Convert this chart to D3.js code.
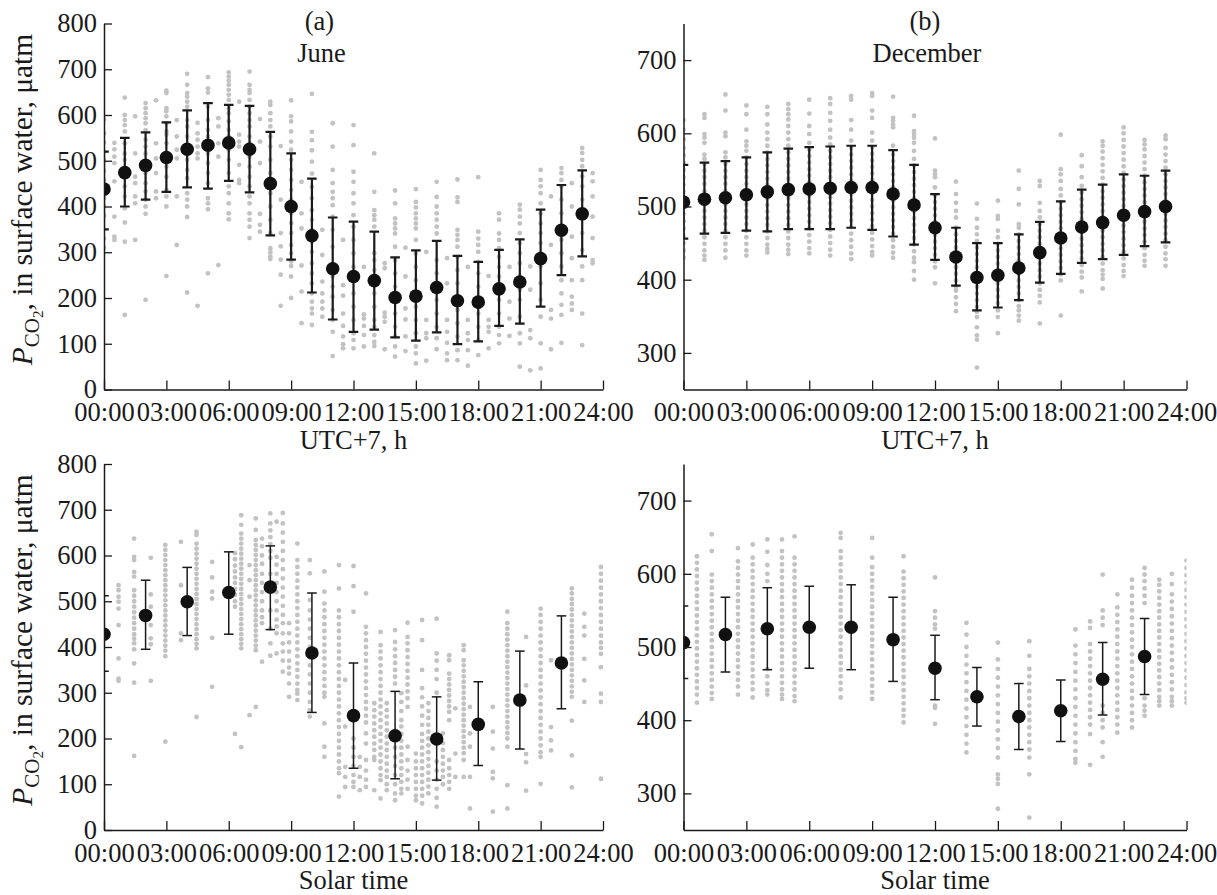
<!DOCTYPE html>
<html>
<head>
<meta charset="utf-8">
<script src="https://cdn.jsdelivr.net/npm/d3@7"></script>
<style>
  html, body { margin: 0; padding: 0; background: #fff; }
  svg { display: block; }
  svg text { font-family: 'Liberation Serif', 'Times New Roman', Times, serif; }
</style>
</head>
<body>
<svg id="chart" width="1217" height="895"></svg>
<script>
// ---------- data ----------
const xTickHours = [0, 3, 6, 9, 12, 15, 18, 21, 24];
const xTickLabels = ["00:00", "03:00", "06:00", "09:00", "12:00", "15:00", "18:00", "21:00", "24:00"];
const juneTicks = [0, 100, 200, 300, 400, 500, 600, 700, 800];
const decemberTicks = [300, 400, 500, 600, 700];

// hourly means (UTC+7) with error bar limits
const utcHours = [0, 1, 2, 3, 4, 5, 6, 7, 8, 9, 10, 11, 12, 13, 14, 15, 16, 17, 18, 19, 20, 21, 22, 23];
const juneUtcMean = [438, 474, 490, 507, 525, 534, 539, 525, 450, 400, 336, 264, 247, 238, 201, 204, 223, 194, 191, 220, 235, 286, 348, 384];
const juneUtcHigh = [520, 550, 562, 584, 610, 626, 622, 620, 563, 516, 461, 376, 367, 345, 289, 304, 325, 292, 279, 305, 328, 393, 447, 479];
const juneUtcLow  = [350, 400, 415, 432, 442, 439, 456, 431, 337, 284, 212, 153, 126, 131, 114, 107, 125, 99, 105, 139, 144, 181, 250, 291];
const decUtcMean = [506, 510, 512, 516, 520, 523, 524, 525, 526, 526, 517, 502, 471, 431, 403, 406, 416, 437, 457, 472, 478, 488, 493, 500];
const decUtcHigh = [557, 560, 562, 567, 574, 579, 581, 582, 583, 583, 577, 557, 517, 471, 450, 450, 462, 479, 507, 523, 530, 544, 542, 549];
const decUtcLow  = [456, 463, 464, 467, 466, 469, 469, 469, 471, 468, 459, 448, 427, 392, 358, 362, 372, 396, 408, 423, 428, 434, 446, 451];

// two-hourly means (solar time) with error bar limits
const solarHours = [0, 2, 4, 6, 8, 10, 12, 14, 16, 18, 20, 22];
const juneSolarMean = [428, 469, 499, 519, 531, 387, 250, 206, 199, 231, 284, 365];
const juneSolarHigh = [512, 546, 574, 608, 621, 518, 365, 303, 291, 324, 391, 468];
const juneSolarLow  = [347, 395, 425, 428, 438, 257, 135, 112, 109, 141, 177, 265];
const decSolarMean = [506, 517, 525, 527, 527, 510, 471, 432, 405, 413, 456, 487];
const decSolarHigh = [556, 568, 581, 583, 585, 568, 516, 472, 450, 455, 506, 539];
const decSolarLow  = [457, 466, 469, 471, 469, 453, 428, 392, 360, 371, 407, 435];

// individual measurements: [hour, [pCO2 values]]
const juneUtcObs = [
  [0.0, [590, 560, 540, 520, 500, 478, 458, 440, 418, 400, 380, 330, 310]],
  [0.5, [539, 525, 509, 495, 455, 378, 334, 327]],
  [1.0, [638, 600, 589, 578, 564, 538, 516, 502, 480, 465, 444, 422, 396, 365, 323, 163]],
  [1.5, [597, 516, 465, 451, 422, 407, 327]],
  [2.0, [626, 615, 604, 593, 582, 567, 546, 531, 516, 473, 451, 433, 415, 400, 384, 196]],
  [2.5, [632, 538, 505, 473, 433, 418]],
  [3.0, [653, 648, 615, 608, 597, 582, 564, 557, 538, 516, 487, 465, 436, 422, 400, 248]],
  [3.5, [589, 553, 524, 505, 422, 316]],
  [4.0, [690, 666, 648, 640, 629, 618, 589, 575, 553, 531, 516, 502, 480, 462, 429, 415, 400, 377, 212]],
  [4.5, [583, 560, 546, 531, 516, 505, 183]],
  [5.0, [683, 658, 649, 618, 589, 567, 553, 538, 516, 495, 473, 451, 418, 407, 394, 254]],
  [5.5, [593, 575, 538, 509, 272]],
  [6.0, [693, 684, 675, 666, 655, 644, 633, 615, 604, 586, 567, 553, 524, 502, 473, 444, 429, 407, 385, 372]],
  [6.5, [629, 557, 542, 531, 491, 458, 451]],
  [7.0, [695, 666, 655, 648, 633, 618, 604, 589, 575, 553, 538, 509, 487, 465, 444, 422, 407, 385, 371, 356, 331]],
  [7.5, [591, 542, 495, 384, 360, 345]],
  [8.0, [629, 622, 604, 589, 575, 553, 531, 502, 473, 429, 400, 371, 342, 309, 300, 291, 285]],
  [8.5, [532, 415, 342, 313, 284, 251, 183]],
  [9.0, [632, 597, 586, 564, 542, 524, 502, 480, 458, 436, 415, 385, 364, 342, 316, 298, 280, 270, 247, 200]],
  [9.5, [454, 385, 352, 271, 214, 145]],
  [10.0, [646, 563, 545, 523, 498, 472, 443, 418, 392, 371, 349, 323, 301, 276, 254, 232, 210, 192, 177, 166, 141]],
  [10.5, [349, 294, 236, 210, 192, 177, 159]],
  [11.0, [582, 531, 480, 451, 432, 418, 403, 378, 349, 312, 268, 247, 225, 203, 174, 152, 126, 73]],
  [11.5, [327, 228, 205, 166, 139, 116, 99, 90]],
  [12.0, [578, 534, 476, 454, 429, 407, 381, 356, 327, 298, 268, 239, 210, 181, 152, 123, 108, 90]],
  [12.5, [268, 164, 155, 139, 119, 94]],
  [13.0, [516, 432, 392, 381, 371, 356, 298, 283, 261, 239, 210, 181, 152, 137, 119, 104, 95]],
  [13.5, [276, 265, 168, 159, 148, 88]],
  [14.0, [435, 407, 374, 363, 352, 341, 312, 283, 254, 225, 196, 166, 137, 116, 94, 72]],
  [14.5, [310, 247, 177, 153, 116, 84]],
  [15.0, [438, 410, 398, 385, 374, 363, 352, 327, 298, 268, 239, 210, 181, 152, 123, 94, 79, 57]],
  [15.5, [301, 152, 123, 112, 63]],
  [16.0, [454, 421, 400, 385, 371, 356, 341, 283, 254, 225, 196, 166, 137, 112, 88]],
  [16.5, [287, 232, 152, 126, 102, 79, 64]],
  [17.0, [459, 420, 410, 349, 338, 327, 312, 290, 261, 232, 203, 174, 145, 116, 86, 64]],
  [17.5, [268, 152, 123, 108, 86, 52]],
  [18.0, [464, 345, 330, 316, 301, 279, 254, 225, 196, 166, 137, 108, 75]],
  [18.5, [248, 152, 137, 126, 90]],
  [19.0, [385, 371, 341, 327, 309, 290, 268, 247, 225, 196, 166, 137, 119, 101]],
  [19.5, [268, 192, 155, 117]],
  [20.0, [404, 393, 378, 363, 342, 320, 298, 276, 247, 218, 196, 159, 123, 101, 50]],
  [20.5, [269, 218, 130, 112, 42]],
  [21.0, [480, 458, 444, 429, 407, 385, 363, 342, 320, 298, 269, 232, 196, 159, 101, 46]],
  [21.5, [422, 316, 174, 155, 88]],
  [22.0, [484, 473, 458, 444, 415, 385, 356, 327, 298, 269, 239, 210, 185, 163, 102]],
  [22.5, [451, 400, 334, 287, 239, 203, 188, 174]],
  [23.0, [528, 517, 502, 488, 466, 444, 415, 378, 342, 305, 269, 239, 166, 97]],
  [23.5, [473, 455, 422, 378, 331, 283, 276]]
];

const decUtcObs = [
  [0, [618, 605, 592, 580, 570, 560, 550, 540, 530, 520, 510, 500, 490, 480, 470, 460, 450, 440, 430]],
  [1, [626, 621, 599, 594, 587, 571, 565, 558, 549, 540, 531, 521, 512, 503, 494, 485, 476, 467, 458, 449, 440, 433, 427]],
  [2, [653, 631, 601, 596, 574, 567, 558, 549, 540, 531, 521, 512, 503, 494, 485, 476, 467, 458, 449, 440, 430]],
  [3, [638, 626, 605, 589, 583, 576, 567, 558, 549, 540, 531, 521, 512, 503, 494, 485, 476, 467, 458, 449, 440, 433]],
  [4, [636, 626, 612, 601, 592, 583, 574, 565, 556, 547, 538, 529, 520, 511, 502, 493, 484, 475, 466, 457, 448, 442, 437]],
  [5, [640, 633, 626, 619, 610, 601, 592, 583, 574, 565, 556, 547, 538, 529, 520, 511, 502, 493, 484, 475, 466, 457, 448, 441, 435]],
  [6, [646, 627, 610, 599, 587, 578, 569, 560, 551, 542, 533, 524, 515, 506, 497, 488, 479, 470, 461, 452, 443, 436]],
  [7, [648, 640, 628, 617, 605, 594, 585, 576, 567, 558, 549, 540, 531, 522, 513, 504, 495, 486, 477, 468, 459, 450, 441, 433]],
  [8, [651, 646, 618, 605, 590, 580, 571, 562, 553, 544, 535, 526, 517, 508, 499, 490, 481, 472, 463, 454, 445, 436, 428]],
  [9, [655, 651, 631, 621, 601, 590, 581, 572, 563, 554, 545, 536, 527, 518, 509, 500, 491, 482, 473, 464, 455, 446, 438, 433]],
  [10, [650, 621, 617, 612, 608, 583, 571, 562, 553, 544, 535, 526, 517, 508, 499, 490, 481, 472, 463, 454, 445, 437, 430]],
  [11, [624, 603, 599, 594, 587, 576, 565, 556, 547, 538, 529, 520, 511, 502, 493, 484, 475, 466, 457, 448, 439, 430, 424, 412, 400]],
  [12, [593, 549, 544, 540, 526, 515, 506, 497, 488, 479, 470, 461, 452, 443, 434, 425, 417, 395]],
  [13, [534, 517, 505, 494, 485, 471, 462, 453, 444, 435, 426, 417, 408, 399, 390, 385, 376, 367, 357]],
  [14, [504, 483, 471, 462, 453, 444, 435, 426, 417, 408, 399, 390, 381, 372, 363, 356, 349, 335, 324, 318, 280]],
  [15, [508, 487, 483, 467, 458, 449, 440, 431, 422, 413, 404, 395, 386, 377, 368, 358, 349, 327]],
  [16, [549, 524, 503, 476, 471, 462, 453, 444, 435, 426, 417, 408, 399, 390, 381, 372, 364, 358, 351, 344]],
  [17, [535, 528, 505, 494, 485, 476, 467, 458, 449, 440, 431, 422, 413, 404, 395, 386, 378, 369, 340]],
  [18, [598, 551, 544, 535, 524, 515, 506, 497, 488, 479, 470, 461, 452, 443, 434, 425, 416, 407, 399, 351]],
  [19, [570, 555, 540, 528, 519, 510, 501, 492, 483, 474, 465, 456, 447, 438, 429, 420, 411, 403, 384]],
  [20, [589, 583, 575, 566, 557, 548, 539, 530, 521, 512, 503, 494, 485, 476, 467, 458, 449, 440, 431, 422, 413, 407, 401, 388]],
  [21, [608, 600, 591, 582, 573, 564, 555, 546, 537, 528, 519, 510, 501, 492, 483, 474, 465, 456, 447, 438, 429, 420, 412, 405]],
  [22, [591, 585, 578, 569, 560, 551, 542, 533, 524, 515, 506, 497, 488, 479, 470, 461, 452, 443, 434, 426, 419]],
  [23, [597, 592, 580, 571, 562, 553, 544, 535, 526, 517, 508, 499, 490, 481, 472, 463, 454, 445, 436, 428, 419]]
];

const juneSolarObs = [
  [0.7, [535, 524, 510, 499, 484, 448, 375, 331, 326]],
  [1.45, [637, 597, 590, 564, 554, 524, 512, 500, 488, 476, 464, 452, 440, 428, 418, 408, 395, 364, 322, 162]],
  [2.25, [595, 515, 488, 448, 419, 406, 326]],
  [2.95, [623, 612, 601, 590, 579, 568, 557, 546, 535, 524, 513, 502, 491, 480, 469, 458, 447, 436, 425, 414, 403, 392, 380, 193]],
  [3.7, [630, 535, 430, 415]],
  [4.45, [652, 645, 626, 615, 604, 593, 582, 571, 560, 549, 538, 527, 516, 505, 494, 483, 472, 461, 450, 439, 428, 417, 407, 397, 247]],
  [5.2, [586, 552, 521, 506, 420, 313]],
  [6.3, [605, 592, 578, 565, 552, 540, 527, 514, 500, 488, 210]],
  [6.6, [688, 667, 648, 637, 626, 615, 604, 593, 582, 571, 560, 549, 538, 527, 516, 505, 494, 483, 472, 461, 450, 439, 428, 417, 407, 397, 181]],
  [7.0, [579, 546, 510, 251]],
  [7.3, [681, 656, 634, 623, 612, 601, 590, 579, 568, 557, 546, 535, 524, 513, 502, 491, 480, 469, 458, 447, 436, 425, 414, 403, 393, 269]],
  [7.6, [637, 620, 600, 582, 560, 540, 520, 500, 480, 465, 452, 368]],
  [8.0, [692, 670, 655, 640, 625, 610, 595, 560, 520, 480, 440, 408, 381]],
  [8.3, [674, 597, 580, 560, 540, 520, 500, 480, 460, 445, 430, 386]],
  [8.6, [693, 670, 650, 630, 610, 590, 570, 550, 530, 510, 490, 470, 452, 430, 408, 390, 370, 346]],
  [8.9, [452, 430, 410, 390, 370, 355, 342, 320, 291]],
  [9.3, [626, 590, 575, 560, 545, 530, 515, 500, 485, 470, 455, 440, 425, 410, 395, 380, 364, 350, 335, 320, 306, 298, 284]],
  [9.9, [590, 561, 503, 480, 460, 440, 420, 400, 380, 360, 340, 320, 300, 280, 262, 248]],
  [10.6, [565, 521, 495, 480, 465, 450, 435, 420, 405, 390, 375, 360, 345, 330, 315, 300, 291, 233, 182, 160]],
  [11.3, [579, 528, 480, 465, 450, 435, 420, 405, 390, 375, 360, 345, 330, 315, 300, 285, 270, 255, 240, 225, 210, 195, 180, 165, 150, 135, 124, 73]],
  [11.6, [328, 226, 138, 116, 94]],
  [12.0, [577, 533, 477, 250, 200, 180, 160, 140, 120, 105, 94]],
  [12.3, [160, 138, 116, 87]],
  [12.6, [517, 444, 430, 415, 400, 385, 370, 355, 340, 325, 310, 295, 280, 265, 250, 235, 211, 189, 153, 130, 110, 94]],
  [13.0, [277, 262, 248, 233, 218, 204, 189, 175, 160, 153, 87]],
  [13.3, [433, 404, 390, 375, 360, 345, 330, 315, 300, 285, 270, 255, 240, 225, 210, 195, 180, 165, 150, 135, 120, 109, 69]],
  [13.6, [277, 262, 248, 233, 218, 204, 189, 175, 160, 145, 130, 116, 100, 87]],
  [14.0, [437, 411, 395, 380, 365, 350, 335, 320, 180, 160, 140, 120, 100, 80, 65]],
  [14.3, [299, 280, 260, 240, 226, 210, 195, 180, 165, 150, 135, 120, 105, 90, 80]],
  [14.6, [453, 422, 408, 393, 378, 363, 348, 333, 318, 303, 288, 269, 182, 153, 130, 110, 90]],
  [15.0, [167, 150, 135, 120, 105, 90, 75, 65]],
  [15.3, [459, 415, 350, 310, 290, 270, 250, 230, 210, 195, 180, 165, 150, 135, 120, 105, 90, 75, 58]],
  [15.6, [277, 260, 245, 230, 215, 200, 185, 170, 155, 140, 125, 110, 95, 80]],
  [16.0, [462, 386, 370, 350, 330, 300, 150, 130, 110, 90, 70, 51]],
  [16.3, [211, 190, 175, 160, 145, 130, 116, 100]],
  [16.6, [382, 371, 342, 330, 318, 306, 294, 282, 270, 258, 240, 153, 135, 120, 105, 90]],
  [16.9, [266, 167, 116]],
  [17.3, [404, 393, 371, 360, 348, 336, 324, 312, 300, 288, 276, 264, 252, 240, 228, 216, 204, 192, 180, 168, 153, 116]],
  [17.6, [269, 211, 182, 116, 47]],
  [18.7, [269, 215, 178, 127, 113, 40]],
  [19.4, [477, 452, 440, 428, 416, 404, 392, 380, 368, 356, 344, 332, 320, 308, 296, 284, 272, 260, 248, 236, 224, 212, 200, 182, 98, 47]],
  [20.3, [422, 316, 166, 148, 86]],
  [21.0, [484, 470, 455, 440, 425, 410, 395, 380, 365, 350, 335, 320, 305, 290, 275, 260, 245, 230, 215, 200, 185, 170, 160, 101]],
  [21.5, [371, 225, 196, 174]],
  [22.5, [528, 517, 505, 494, 482, 470, 458, 446, 434, 422, 410, 398, 386, 374, 362, 350, 338, 326, 314, 302, 291, 239, 163, 93]],
  [23.1, [473, 444, 425, 374, 327, 280]],
  [23.9, [575, 560, 545, 530, 515, 500, 485, 470, 455, 440, 425, 410, 398, 385, 356, 298, 280, 112]]
];

const decSolarObs = [
  [0.64, [624, 615, 606, 597, 588, 579, 570, 561, 552, 543, 534, 525, 516, 507, 498, 489, 480, 471, 462, 453, 444, 435, 424]],
  [1.35, [654, 631, 599, 590, 581, 572, 563, 554, 545, 536, 527, 518, 509, 500, 491, 482, 473, 464, 455, 446, 437, 429]],
  [2.6, [635, 617, 608, 599, 590, 581, 572, 563, 554, 545, 536, 527, 518, 509, 500, 491, 482, 473, 464, 455, 446, 435]],
  [3.3, [640, 622, 613, 604, 595, 586, 577, 568, 559, 550, 541, 532, 523, 514, 505, 496, 487, 478, 469, 460, 451, 442, 431]],
  [4.0, [647, 630, 612, 600, 590, 470, 460, 450, 441, 435]],
  [4.7, [647, 631, 622, 613, 604, 595, 586, 577, 568, 559, 550, 541, 532, 523, 514, 505, 496, 487, 478, 469, 460, 451, 442, 435, 429]],
  [5.3, [651, 622, 613, 604, 595, 586, 577, 568, 559, 550, 541, 532, 523, 514, 505, 496, 487, 478, 469, 460, 451, 442, 433, 426]],
  [7.5, [656, 649, 631, 622, 613, 604, 595, 586, 577, 568, 559, 550, 541, 532, 523, 514, 505, 496, 487, 478, 469, 460, 451, 442, 431]],
  [9.0, [649, 622, 609, 600, 591, 582, 573, 564, 555, 546, 537, 528, 519, 510, 501, 492, 483, 474, 465, 456, 447, 438, 429]],
  [10.5, [624, 603, 594, 585, 576, 567, 558, 549, 540, 531, 522, 513, 504, 495, 486, 477, 468, 459, 450, 441, 432, 423, 414, 406, 397]],
  [12.0, [595, 549, 540, 531, 525, 420, 417, 395]],
  [13.5, [533, 517, 500, 488, 476, 464, 452, 440, 428, 416, 404, 392, 380, 368, 356]],
  [15.0, [506, 483, 470, 458, 446, 434, 422, 410, 398, 386, 374, 362, 349, 326, 320, 313, 279]],
  [16.5, [508, 488, 470, 460, 450, 440, 430, 420, 410, 400, 390, 380, 370, 360, 349, 326, 267]],
  [18.7, [524, 502, 490, 478, 466, 454, 442, 430, 418, 406, 394, 382, 370, 358, 347, 342]],
  [19.4, [535, 526, 504, 494, 484, 474, 464, 454, 444, 434, 424, 414, 404, 394, 381, 339]],
  [20.0, [599, 550, 540, 530, 420, 410, 400, 390, 370, 350]],
  [20.7, [572, 554, 544, 534, 524, 514, 504, 494, 484, 474, 464, 454, 444, 434, 424, 414, 404, 394, 383]],
  [21.4, [592, 581, 570, 560, 550, 540, 530, 520, 510, 500, 490, 480, 470, 460, 450, 440, 430, 420, 410, 400, 390]],
  [22.0, [608, 599, 590, 580, 570, 560, 430, 420, 413, 406]],
  [22.7, [592, 585, 576, 567, 558, 549, 540, 531, 522, 513, 504, 495, 486, 477, 468, 459, 450, 441, 432, 426, 420]],
  [23.3, [600, 586, 572, 562, 552, 542, 532, 522, 512, 502, 492, 482, 472, 462, 452, 442, 432, 426, 420]],
  [24.0, [618, 608, 598, 588, 578, 568, 558, 548, 538, 528, 518, 508, 498, 488, 478, 468, 458, 448, 438, 430, 424]]
];

// ---------- layout ----------
const FONT = "'Liberation Serif', 'Times New Roman', Times, serif";
const INK = "#1a1a1a";
const DOT = "#c2c2c2";
const FS = 26.5;

const cols = [{ x0: 104, x1: 603 }, { x0: 683.5, x1: 1186.5 }];
const rows = [{ y0: 23.5, y1: 389.5 }, { y0: 464, y1: 830 }];

const panels = [
  { col: 0, row: 0, domain: [0, 800], ticks: juneTicks, obs: juneUtcObs, hours: utcHours,
    mean: juneUtcMean, lo: juneUtcLow, hi: juneUtcHigh, barWidth: 2.2, tag: "(a)", month: "June", tagShift: -34, xTitle: "UTC+7, h" },
  { col: 1, row: 0, domain: [250, 750], ticks: decemberTicks, obs: decUtcObs, hours: utcHours,
    mean: decUtcMean, lo: decUtcLow, hi: decUtcHigh, barWidth: 2.2, tag: "(b)", month: "December", tagShift: -10, xTitle: "UTC+7, h" },
  { col: 0, row: 1, domain: [0, 800], ticks: juneTicks, obs: juneSolarObs, hours: solarHours,
    mean: juneSolarMean, lo: juneSolarLow, hi: juneSolarHigh, barWidth: 1.5, xTitle: "Solar time" },
  { col: 1, row: 1, domain: [250, 750], ticks: decemberTicks, obs: decSolarObs, hours: solarHours,
    mean: decSolarMean, lo: decSolarLow, hi: decSolarHigh, barWidth: 1.5, xTitle: "Solar time" }
];

const svg = d3.select("#chart");
const defs = svg.append("defs");

function label(sel) {
  return sel.attr("fill", INK).attr("font-family", FONT).style("font-family", FONT);
}

panels.forEach((p, i) => {
  const { x0, x1 } = cols[p.col];
  const { y0, y1 } = rows[p.row];
  const x = d3.scaleLinear().domain([0, 24]).range([x0, x1]);
  const y = d3.scaleLinear().domain(p.domain).range([y1, y0]);

  const clipId = "plot-clip-" + i;
  defs.append("clipPath").attr("id", clipId)
    .append("rect").attr("x", x0).attr("y", y0 - 12).attr("width", x1 - x0).attr("height", y1 - y0 + 12);

  const g = svg.append("g");
  const plot = g.append("g").attr("clip-path", `url(#${clipId})`);

  // individual measurements
  const pts = [];
  p.obs.forEach(([t, vals]) => vals.forEach(v => pts.push([t, v])));
  plot.append("g").selectAll("circle").data(pts).join("circle")
    .attr("cx", d => x(d[0])).attr("cy", d => y(d[1])).attr("r", 2.4).attr("fill", DOT);

  // error bars
  const bars = p.hours.map((h, k) => ({ h, m: p.mean[k], lo: p.lo[k], hi: p.hi[k] }));
  const eb = plot.append("g").attr("stroke", INK).attr("stroke-width", p.barWidth).attr("fill", "none");
  eb.selectAll("line.stem").data(bars).join("line").attr("class", "stem")
    .attr("x1", d => x(d.h)).attr("x2", d => x(d.h)).attr("y1", d => y(d.lo)).attr("y2", d => y(d.hi));
  ["lo", "hi"].forEach(key => {
    eb.selectAll("line.cap-" + key).data(bars).join("line").attr("class", "cap-" + key)
      .attr("x1", d => x(d.h) - 4.8).attr("x2", d => x(d.h) + 4.8)
      .attr("y1", d => y(d[key])).attr("y2", d => y(d[key]));
  });

  // means
  plot.append("g").selectAll("circle").data(bars).join("circle")
    .attr("cx", d => x(d.h)).attr("cy", d => y(d.m)).attr("r", 6.8).attr("fill", "#111");

  // axes
  const yAxis = d3.axisLeft(y).tickValues(p.ticks).tickSize(-8).tickSizeOuter(0).tickPadding(7).tickFormat(d3.format("d"));
  const xAxis = d3.axisBottom(x).tickValues(xTickHours).tickSize(-9).tickSizeOuter(0).tickPadding(13)
    .tickFormat((d, k) => xTickLabels[k]);

  const ya = g.append("g").attr("transform", `translate(${x0},0)`).call(yAxis);
  const xa = g.append("g").attr("transform", `translate(0,${y1})`).call(xAxis);
  [ya, xa].forEach(a => {
    a.attr("font-family", FONT).attr("font-size", FS);
    a.select(".domain").attr("stroke", INK).attr("stroke-width", 1.5);
    a.selectAll(".tick line").attr("stroke", INK).attr("stroke-width", 1.3);
    label(a.selectAll(".tick text")).style("font-size", FS + "px");
  });

  // x axis title
  label(g.append("text")).attr("x", (x0 + x1) / 2).attr("y", y1 + 59).attr("text-anchor", "middle")
    .style("font-size", FS + "px").text(p.xTitle);

  // panel tag and month
  if (p.tag) {
    const cx = (x0 + x1) / 2 + p.tagShift;
    label(g.append("text")).attr("x", cx).attr("y", y0 + 6).attr("text-anchor", "middle")
      .style("font-size", FS + "px").text(p.tag);
    label(g.append("text")).attr("x", cx + 2).attr("y", y0 + 38).attr("text-anchor", "middle")
      .style("font-size", FS + "px").text(p.month);
  }

  // y axis title (left column only)
  if (p.col === 0) {
    const t = label(g.append("text"))
      .attr("transform", `translate(32,${(y0 + y1) / 2 - 7}) rotate(-90)`)
      .attr("text-anchor", "middle").style("font-size", "29.5px");
    t.append("tspan").attr("font-style", "italic").text("P");
    t.append("tspan").attr("dy", 7).style("font-size", "21px").text("CO");
    t.append("tspan").attr("dy", 4).style("font-size", "15px").text("2");
    t.append("tspan").attr("dy", -11).text(", in surface water, μatm");
  }
});
</script>
</body>
</html>
